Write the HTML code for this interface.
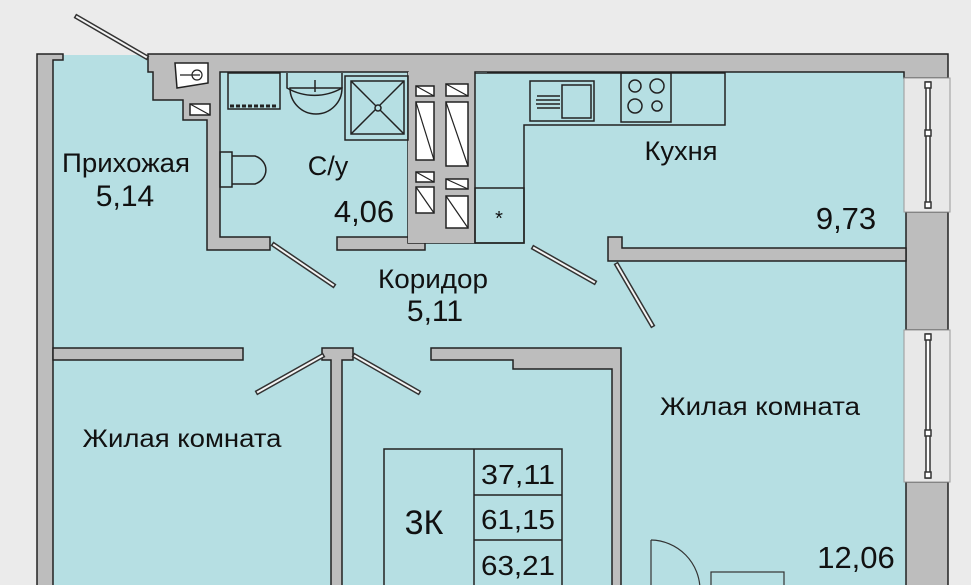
<!DOCTYPE html>
<html><head><meta charset="utf-8"><style>
html,body{margin:0;padding:0;background:#ebebeb;}
svg{display:block;}
text{font-family:"Liberation Sans",sans-serif;fill:#111;}
</style></head><body>
<svg width="971" height="585" viewBox="0 0 971 585" xmlns="http://www.w3.org/2000/svg">
<rect width="971" height="585" fill="#ebebeb"/>
<rect x="45" y="55" width="870" height="540" fill="#b6dfe3"/>
<g fill="#bdbdbd" stroke="#222" stroke-width="1.5">
<path d="M37 54 H63 V60 H53 V600 H37 Z"/>
<path d="M148 54 H948 V78 H904 V72 H475 V243 H408 V237 H425 V250 H337 V237 H408 V72 H220 V237 H270 V250 H207 V120 H183 V100 H153 V72 H148 Z"/>
<path d="M906 212 H948 V330 H906 Z"/>
<path d="M906 482 H948 V600 H906 Z"/>
<path d="M608 237 H622 V248 H906 V261 H608 Z"/>
<path d="M53 348 H243 V360 H53 Z"/>
<path d="M322 348 H353 V360 H342 V600 H331 V360 H322 Z"/>
<path d="M431 348 H621 V600 H612 V369 H513 V360 H431 Z"/>
</g>
<rect x="408" y="72" width="67" height="171" fill="#bdbdbd"/>
<rect x="475" y="72" width="12" height="171" fill="#b6dfe3"/>
<line x1="475" y1="72" x2="475" y2="243" stroke="#222" stroke-width="1.5"/>
<g fill="#e8e8e8" stroke="#999" stroke-width="1">
<rect x="904" y="78" width="46" height="134"/>
<rect x="904" y="330" width="46" height="152"/>
</g>
<g stroke="#333" stroke-width="1.5" fill="#fff">
<rect x="926" y="82" width="4" height="126"/>
<rect x="926" y="334" width="4" height="144"/>
<rect x="925" y="82" width="6" height="6"/><rect x="925" y="130" width="6" height="6"/><rect x="925" y="202" width="6" height="6"/>
<rect x="925" y="334" width="6" height="6"/><rect x="925" y="430" width="6" height="6"/><rect x="925" y="472" width="6" height="6"/>
</g>
<g fill="#fff" stroke="#222" stroke-width="1.5">
<rect x="416" y="86" width="18" height="10"/><rect x="446" y="84" width="22" height="12"/>
<rect x="416" y="102" width="18" height="58"/><rect x="446" y="102" width="22" height="64"/>
<rect x="416" y="172" width="18" height="10"/><rect x="446" y="179" width="22" height="10"/>
<rect x="416" y="187" width="18" height="26"/><rect x="446" y="196" width="22" height="32"/>
<rect x="190" y="104" width="20" height="11"/>
<path d="M175 63 H208 V83 L177 88 Z" fill="#fff"/>
</g>
<g stroke="#222" stroke-width="1.2">
<line x1="416" y1="86" x2="434" y2="96"/><line x1="446" y1="84" x2="468" y2="96"/>
<line x1="416" y1="102" x2="434" y2="160"/><line x1="446" y1="102" x2="468" y2="166"/>
<line x1="416" y1="172" x2="434" y2="182"/><line x1="446" y1="179" x2="468" y2="189"/>
<line x1="416" y1="187" x2="434" y2="213"/><line x1="446" y1="196" x2="468" y2="228"/>
<line x1="190" y1="104" x2="210" y2="115"/>
<line x1="180" y1="75" x2="200" y2="75"/><circle cx="197" cy="75" r="5" fill="none"/>
</g>
<g fill="none" stroke="#222" stroke-width="1.5">
<rect x="228" y="73" width="52" height="36"/>
<path d="M287 73 V88 A55 55 0 0 0 342 88 V73"/>
<path d="M290 88 A26 26 0 0 0 342 88 Z"/>
<rect x="345" y="76" width="63" height="64"/>
<rect x="351" y="81" width="53" height="53"/>
<line x1="351" y1="81" x2="404" y2="134"/><line x1="404" y1="81" x2="351" y2="134"/>
<circle cx="378" cy="108" r="3" fill="#b6dfe3"/>
<rect x="220" y="152" width="12" height="35"/>
<path d="M232 156 H255 A17 15 0 0 1 255 184 H232"/>
<line x1="315" y1="80" x2="315" y2="92"/>
</g>
<line x1="230" y1="106" x2="278" y2="106" stroke="#222" stroke-width="3" stroke-dasharray="4 2"/>
<g fill="none" stroke="#222" stroke-width="1.5">
<path d="M475 73 H725 V125 H524 V243 H475"/>
<rect x="475" y="188" width="49" height="55"/>
<rect x="530" y="81" width="64" height="40"/><rect x="562" y="85" width="29" height="33"/>
<rect x="621" y="73" width="50" height="49"/>
<circle cx="635" cy="86" r="6"/><circle cx="657" cy="86" r="7"/><circle cx="635" cy="106" r="7"/><circle cx="657" cy="106" r="5"/>
<line x1="537" y1="96" x2="560" y2="96"/><line x1="536" y1="100" x2="560" y2="100"/><line x1="536" y1="104" x2="560" y2="104"/><line x1="537" y1="108" x2="560" y2="108"/>
</g>
<text x="499" y="225" font-size="20" text-anchor="middle">*</text>
<g stroke="#333" stroke-width="5" stroke-linecap="square">
<line x1="77" y1="17" x2="146" y2="57"/>
<line x1="274" y1="245" x2="333" y2="285"/>
<line x1="534" y1="248" x2="594" y2="282"/>
<line x1="617" y1="265" x2="652" y2="325"/>
<line x1="322" y1="356" x2="258" y2="392"/>
<line x1="355" y1="356" x2="418" y2="392"/>
</g>
<g stroke="#f4f4f4" stroke-width="2" stroke-linecap="square">
<line x1="77" y1="17" x2="146" y2="57"/>
<line x1="274" y1="245" x2="333" y2="285"/>
<line x1="534" y1="248" x2="594" y2="282"/>
<line x1="617" y1="265" x2="652" y2="325"/>
<line x1="322" y1="356" x2="258" y2="392"/>
<line x1="355" y1="356" x2="418" y2="392"/>
</g>
<path d="M651 540 A50 50 0 0 1 700 590" fill="none" stroke="#333" stroke-width="1.2"/>
<line x1="651" y1="540" x2="651" y2="585" stroke="#333" stroke-width="1.2"/>
<rect x="711" y="572" width="73" height="20" fill="none" stroke="#333" stroke-width="1.2"/>
<g fill="none" stroke="#222" stroke-width="1.5">
<rect x="384" y="449" width="178" height="140"/>
<line x1="474" y1="449" x2="474" y2="589"/>
<line x1="474" y1="495" x2="562" y2="495"/>
<line x1="474" y1="540" x2="562" y2="540"/>
</g>
<g font-size="27">
<text x="126" y="172" text-anchor="middle" textLength="128" lengthAdjust="spacingAndGlyphs">Прихожая</text>
<text x="125" y="206" text-anchor="middle" font-size="30">5,14</text>
<text x="328" y="175" text-anchor="middle">С/у</text>
<text x="364" y="222" text-anchor="middle" font-size="31">4,06</text>
<text x="433" y="288" text-anchor="middle" textLength="110" lengthAdjust="spacingAndGlyphs">Коридор</text>
<text x="435" y="321" text-anchor="middle" font-size="30">5,11</text>
<text x="681" y="160" text-anchor="middle" textLength="73" lengthAdjust="spacingAndGlyphs">Кухня</text>
<text x="846" y="229" text-anchor="middle" font-size="31">9,73</text>
<text x="182" y="447" text-anchor="middle" font-size="25" textLength="199" lengthAdjust="spacingAndGlyphs">Жилая комната</text>
<text x="760" y="415" text-anchor="middle" font-size="25" textLength="200" lengthAdjust="spacingAndGlyphs">Жилая комната</text>
<text x="856" y="568" text-anchor="middle" font-size="31">12,06</text>
<text x="424" y="534" text-anchor="middle" font-size="34">3К</text>
<text x="518" y="484" text-anchor="middle" font-size="28" textLength="74" lengthAdjust="spacingAndGlyphs">37,11</text>
<text x="518" y="529" text-anchor="middle" font-size="28" textLength="74" lengthAdjust="spacingAndGlyphs">61,15</text>
<text x="518" y="575" text-anchor="middle" font-size="28" textLength="74" lengthAdjust="spacingAndGlyphs">63,21</text>
</g>
</svg>
</body></html>
